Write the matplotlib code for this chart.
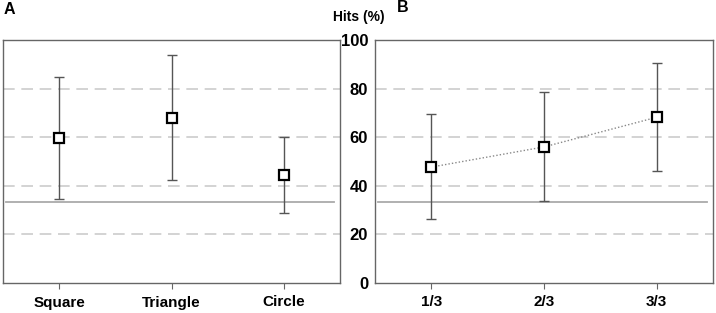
import numpy as np
import matplotlib.pyplot as plt

plt.rcParams['font.family'] = ['Liberation Sans', 'DejaVu Sans']
plt.rcParams['font.weight'] = 'bold'

# panel A: shapes
shape_labels = ['Square', 'Triangle', 'Circle']
shape_mean = [59.5, 68.0, 44.3]
shape_low = [34.6, 42.3, 28.8]
shape_high = [84.8, 93.8, 60.0]

# panel B: proportion
prop_labels = ['1/3', '2/3', '3/3']
prop_mean = [47.7, 56.0, 68.2]
prop_low = [26.3, 33.9, 46.0]
prop_high = [69.4, 78.5, 90.4]

chance = 33.3
yticks = [0, 20, 40, 60, 80, 100]

W, H = 716, 313
fig = plt.figure(figsize=(W / 100, H / 100), dpi=100)
axA = fig.add_axes([3 / W, 1 - 283 / H, 337 / W, 243 / H])
axB = fig.add_axes([375 / W, 1 - 283 / H, 338 / W, 243 / H])

spine_col = '#666666'


def draw_panel(ax, labels, mean, low, high, connect):
    x = np.arange(1, len(labels) + 1)
    m = np.array(mean)
    yerr = [m - np.array(low), np.array(high) - m]
    for y in [20, 40, 60, 80]:
        ax.axhline(y, color='#cccccc', lw=1.2, ls=(0, (7, 4)), zorder=0)
    # chance level
    ax.plot([0.53, 3.45], [chance, chance], color='#aaaaaa', lw=1.3, zorder=1)
    ax.errorbar(x, m, yerr=yerr, fmt='none', ecolor='#555555', elinewidth=1.0,
                capsize=3.5, capthick=1.0, zorder=2)
    if connect:
        ax.plot(x, m, color='#888888', lw=1.0, ls=(0, (1, 1.5)), zorder=2)
    ax.plot(x, m, 's', ms=6.5, mfc='white', mec='black', mew=1.6, zorder=3)
    ax.set_xlim(0.5, 3.5)
    ax.set_ylim(0, 100)
    ax.set_xticks(x)
    ax.set_xticklabels(labels, fontsize=11, fontweight='bold')
    ax.tick_params(axis='x', length=4, color=spine_col, pad=5)
    for s in ax.spines.values():
        s.set_color(spine_col)
        s.set_linewidth(1.0)


draw_panel(axA, shape_labels, shape_mean, shape_low, shape_high, False)
draw_panel(axB, prop_labels, prop_mean, prop_low, prop_high, True)

axA.set_yticks([])
axB.set_yticks(yticks)
axB.set_yticklabels([str(v) for v in yticks], fontsize=12, fontweight='bold')
axB.tick_params(axis='y', length=0, pad=5)

fig.text(4 / W, 1 - 10 / H, 'A', fontsize=11.5, fontweight='bold', va='center')
fig.text(397 / W, 1 - 8 / H, 'B', fontsize=11.5, fontweight='bold', va='center')
fig.text(359 / W, 1 - 17 / H, 'Hits (%)', fontsize=10, fontweight='bold',
         ha='center', va='center')

fig.savefig('out.png', dpi=100)
